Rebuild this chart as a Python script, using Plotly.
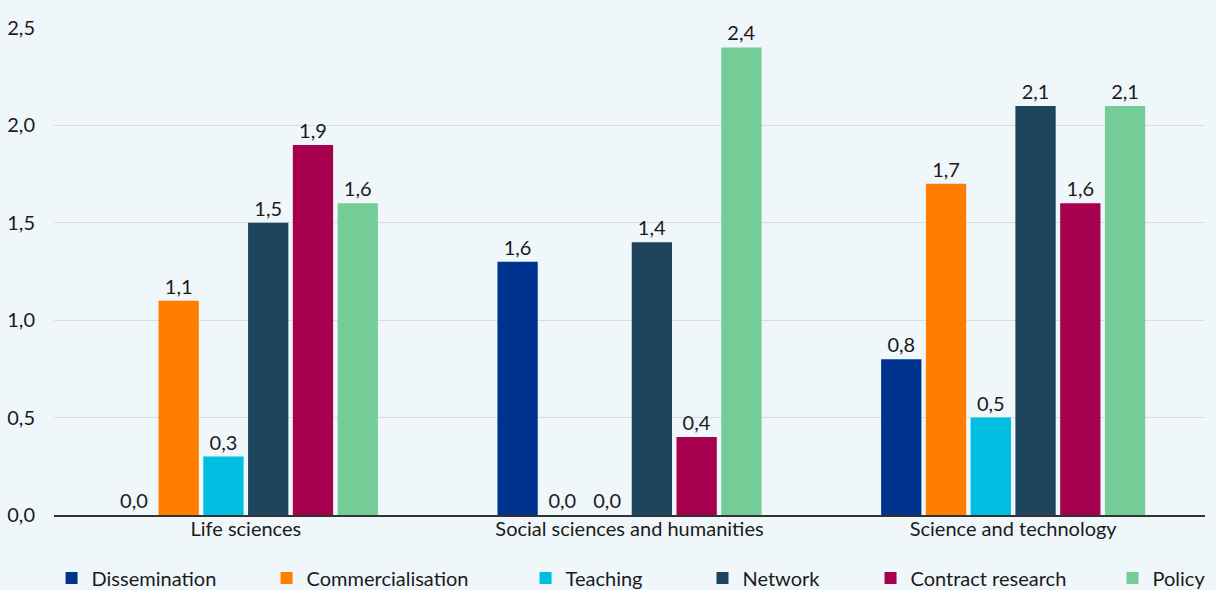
import plotly.graph_objects as go

categories = ["Life sciences", "Social sciences and humanities", "Science and technology"]
series_names = ["Dissemination", "Commercialisation", "Teaching", "Network", "Contract research", "Policy"]
colors = ["#00338d", "#ff7d00", "#00bee2", "#1e455d", "#a6004e", "#74cc97"]

dissemination = [0.0, 1.3, 0.8]
commercialisation = [1.1, 0.0, 1.7]
teaching = [0.3, 0.0, 0.5]
network = [1.5, 1.4, 2.1]
contract_research = [1.9, 0.4, 1.6]
policy = [1.6, 2.4, 2.1]

# value labels as printed in the reference
dissemination_labels = [0.0, 1.6, 0.8]
commercialisation_labels = [1.1, 0.0, 1.7]
teaching_labels = [0.3, 0.0, 0.5]
network_labels = [1.5, 1.4, 2.1]
contract_research_labels = [1.9, 0.4, 1.6]
policy_labels = [1.6, 2.4, 2.1]

values = [dissemination, commercialisation, teaching, network, contract_research, policy]
labels = [dissemination_labels, commercialisation_labels, teaching_labels,
          network_labels, contract_research_labels, policy_labels]

# legend entry positions (container fraction)
legend_x = [0.0424, 0.2192, 0.4322, 0.5777, 0.7159, 0.9149]

FONT = "Lato"
FS = 20
fig = go.Figure()
legend_layout = {}
for i, (name, vals, labs, col) in enumerate(zip(series_names, values, labels, colors)):
    lg = "legend" if i == 0 else f"legend{i + 1}"
    fig.add_trace(go.Bar(
        x=categories, y=vals, name=name, marker_color=col, marker_line_width=0,
        text=labs, texttemplate="%{text:.1f}", textposition="outside",
        textfont=dict(size=FS, color="#1a1a1a", family=FONT), cliponaxis=False,
        legend=lg, showlegend=True,
    ))
    legend_layout[lg] = dict(
        orientation="h", xref="container", yref="container",
        x=legend_x[i], xanchor="left", y=0.0203, yanchor="middle",
        font=dict(size=FS, family=FONT, color="#1a1a1a"), itemwidth=30,
        bgcolor="rgba(0,0,0,0)", borderwidth=0,
    )

fig.update_layout(
    width=1216, height=590,
    barmode="group", bargap=0.3, bargroupgap=0.1,
    separators=",.",
    paper_bgcolor="#f0f7fb", plot_bgcolor="#f0f7fb",
    font=dict(family=FONT, size=FS, color="#1a1a1a"),
    margin=dict(l=54, r=11, t=28, b=75, autoexpand=False),
    showlegend=True,
    xaxis=dict(showline=True, linecolor="#333333", linewidth=1.5, ticks="",
               ticklabelstandoff=-5,
               tickfont=dict(size=FS, family=FONT), showgrid=False),
    yaxis=dict(range=[0, 2.5], dtick=0.5, tickformat=".1f", showgrid=True,
               gridcolor="#d9dde1", gridwidth=1, zeroline=False,
               ticklabelstandoff=18, tickfont=dict(size=FS, family=FONT)),
    **legend_layout,
)

fig.write_html("out.html", config={"displayModeBar": False},
               post_script="document.body.style.margin='0';document.body.style.background='#f0f7fb';")
